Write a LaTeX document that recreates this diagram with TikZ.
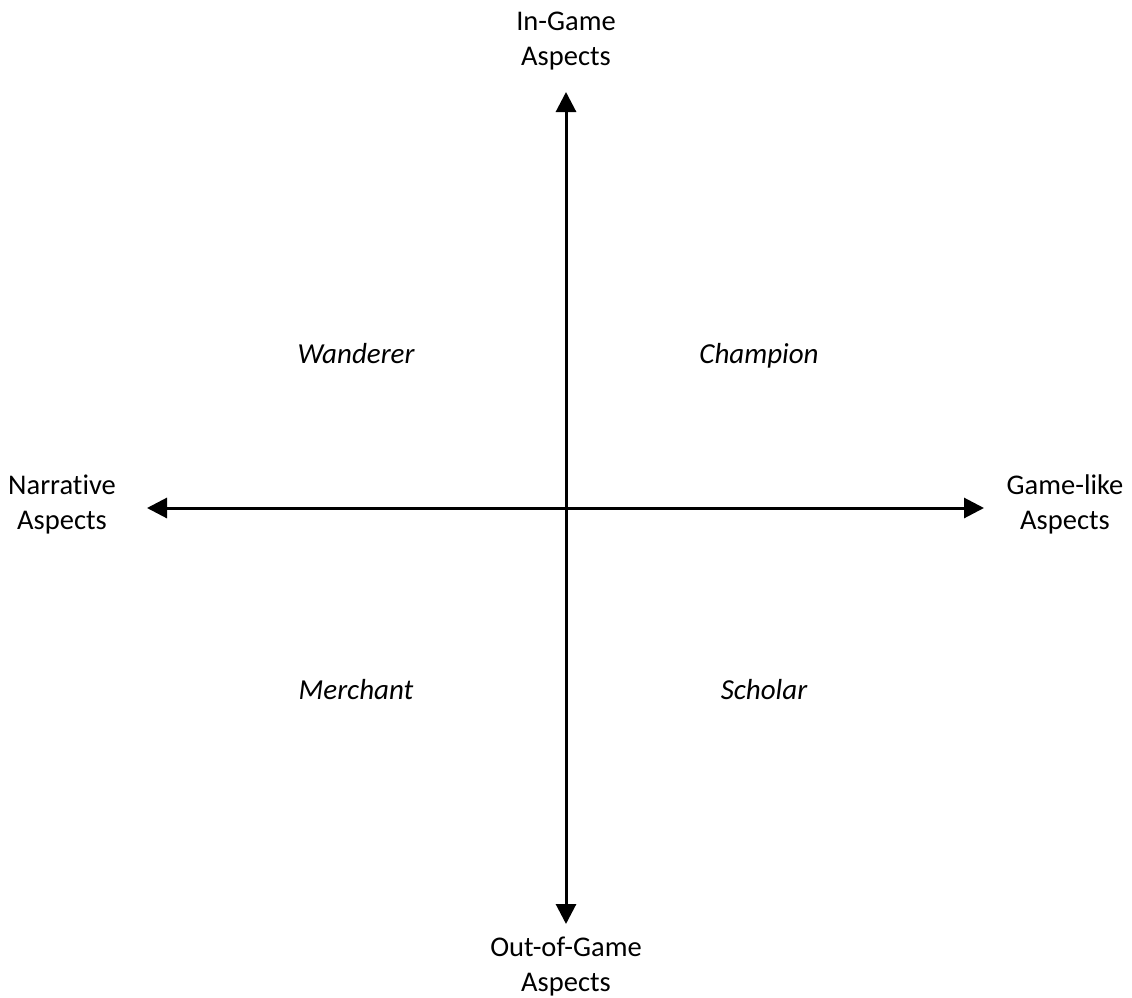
\documentclass[tikz,border=0pt]{standalone}
\usepackage{fontspec}
\setmainfont{Carlito}[Ligatures=NoCommon]
\usetikzlibrary{arrows.meta}
\begin{document}
\begin{tikzpicture}[x=1pt,y=-1pt,
  axis/.style={line width=3pt,{Triangle[length=20pt,width=20pt]}-{Triangle[length=20pt,width=20pt]}},
  endlabel/.style={align=center,font=\fontsize{28.5}{35}\selectfont,inner sep=0pt},
  quadlabel/.style={font=\fontsize{29}{32}\selectfont\itshape,inner sep=0pt,anchor=base}]
\useasboundingbox (0,0) rectangle (1132,998);
% axis end labels
\node[endlabel] (top) at (566,41) {In-Game\\Aspects};
\node[endlabel] (bottom) at (566,967) {Out-of-Game\\Aspects};
\node[endlabel] (left) at (62,504) {Narrative\\Aspects};
\node[endlabel] (right) at (1065,504) {Game-like\\Aspects};
% axis end points
\coordinate (n) at (566,92);
\coordinate (s) at (566,924);
\coordinate (w) at (147,508);
\coordinate (e) at (984,508);
% axes
\draw[axis] (s) -- (n);
\draw[axis] (w) -- (e);
% quadrant labels
\node[quadlabel] (wanderer) at (356,363) {Wanderer};
\node[quadlabel] (champion) at (759,363) {Champion};
\node[quadlabel] (merchant) at (356,699) {Merchant};
\node[quadlabel] (scholar) at (764,699) {Scholar};
\end{tikzpicture}
\end{document}
